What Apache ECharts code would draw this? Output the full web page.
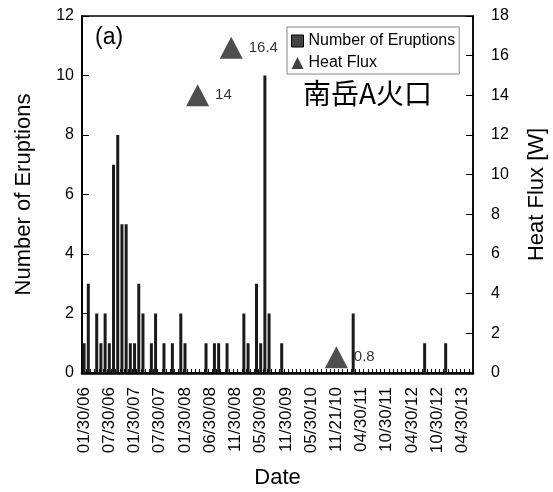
<!DOCTYPE html>
<html>
<head>
<meta charset="utf-8">
<script src="https://cdn.jsdelivr.net/npm/echarts@6/dist/echarts.min.js"></script>
<style>
  html, body { margin: 0; padding: 0; background: #fff; }
  #chart { width: 553px; height: 492px; }
</style>
</head>
<body>
<div id="chart"></div>
<script>
// tick labels shown every 6th category on the date axis
var tickLabels = ['01/30/06', '07/30/06', '01/30/07', '07/30/07', '01/30/08', '06/30/08',
    '11/30/08', '05/30/09', '11/30/09', '05/30/10', '11/21/10', '04/30/11',
    '10/30/11', '04/30/12', '10/30/12', '04/30/13'];
var categoryCount = 93;
var labelEvery = 6;

// eruptions: category index and count
var eruptionIdx = [0, 1, 3, 4, 5, 6, 7, 8, 9, 10, 11, 12, 13, 14, 16, 17, 19, 21, 23, 24,
    29, 31, 32, 34, 38, 39, 41, 42, 43, 44, 47, 64, 81, 86];
var eruptionCount = [1, 3, 2, 1, 2, 1, 7, 8, 5, 5, 1, 1, 3, 2, 1, 2, 1, 1, 2, 1,
    1, 1, 1, 1, 2, 1, 3, 1, 10, 2, 1, 2, 1, 1];

// heat flux measurements
var heatIdx = [27, 35, 60];
var heatFlux = [14, 16.4, 0.8];

var categories = [];
for (var i = 0; i < categoryCount; i++) {
    categories.push(i % labelEvery === 0 ? (tickLabels[i / labelEvery] || '') : '');
}
var barData = eruptionIdx.map(function (x, k) { return [x, eruptionCount[k]]; });
var heatData = heatIdx.map(function (x, k) { return [x, heatFlux[k]]; });

var FONT = "'Liberation Sans', 'Noto Sans CJK JP', sans-serif";
var chart = echarts.init(document.getElementById('chart'), null, { renderer: 'canvas' });

chart.setOption({
    animation: false,
    backgroundColor: '#fff',
    textStyle: { fontFamily: FONT, color: '#000' },
    grid: {
        left: 82, right: 80, top: 16, bottom: 119,
        outerBoundsMode: 'none',
        show: true, borderColor: '#000', borderWidth: 1.5
    },
    legend: {
        orient: 'vertical',
        left: 287, top: 27,
        padding: [4, 4, 1, 4],
        itemGap: 2,
        itemWidth: 12, itemHeight: 12,
        borderColor: '#888', borderWidth: 1,
        backgroundColor: '#fff',
        textStyle: { fontSize: 16, lineHeight: 20, color: '#000', fontFamily: FONT },
        data: [
            { name: 'Number of Eruptions', icon: 'rect', itemStyle: { color: '#444', borderColor: '#000', borderWidth: 1 } },
            { name: 'Heat Flux', icon: 'triangle', itemStyle: { color: '#111' } }
        ]
    },
    graphic: [
        { type: 'text', left: 95, top: 26, style: { text: '(a)', fontSize: 23, fontFamily: FONT, fill: '#000' } },
        { type: 'text', left: 303, top: 79, style: { text: '南岳A火口', fontSize: 28, fontFamily: "'Noto Sans CJK JP'", fill: '#000' } }
    ],
    xAxis: {
        type: 'category',
        data: categories,
        boundaryGap: true,
        name: 'Date',
        nameLocation: 'middle',
        nameGap: 94,
        nameTextStyle: { fontSize: 22, color: '#000' },
        axisLine: { lineStyle: { color: '#000', width: 2.5 } },
        axisTick: { show: true, inside: true, length: 4, interval: 0, lineStyle: { color: '#000', width: 1 } },
        axisLabel: { interval: labelEvery - 1, rotate: 90, fontSize: 17, color: '#000', margin: 14 },
        splitLine: { show: false }
    },
    yAxis: [
        {
            type: 'value', min: 0, max: 12, interval: 2,
            name: 'Number of Eruptions',
            nameLocation: 'middle',
            nameGap: 47,
            nameTextStyle: { fontSize: 22, color: '#000' },
            axisLine: { show: true, lineStyle: { color: '#000', width: 2 } },
            axisTick: { show: true, inside: true, length: 7, lineStyle: { color: '#000', width: 1 } },
            axisLabel: { fontSize: 16, color: '#000', margin: 8 },
            splitLine: { show: false }
        },
        {
            type: 'value', min: 0, max: 18, interval: 2,
            name: 'Heat Flux [W]',
            nameLocation: 'middle',
            nameGap: 53,
            nameRotate: 90,
            nameTextStyle: { fontSize: 22, color: '#000' },
            axisLine: { show: true, lineStyle: { color: '#000', width: 1.5 } },
            axisTick: { show: true, inside: true, length: 7, lineStyle: { color: '#000', width: 1 } },
            axisLabel: { fontSize: 16, color: '#000', margin: 18 },
            splitLine: { show: false }
        }
    ],
    series: [
        {
            name: 'Heat Flux',
            type: 'scatter',
            yAxisIndex: 1,
            symbol: 'triangle',
            symbolSize: [23, 22],
            itemStyle: { color: '#222' },
            label: { show: true, position: 'right', distance: 6, fontSize: 15, color: '#000' },
            data: heatData
        },
        {
            name: 'Number of Eruptions',
            type: 'bar',
            yAxisIndex: 0,
            barWidth: 3,
            itemStyle: { color: '#1a1a1a' },
            data: barData
        }
    ]
});
</script>
</body>
</html>
